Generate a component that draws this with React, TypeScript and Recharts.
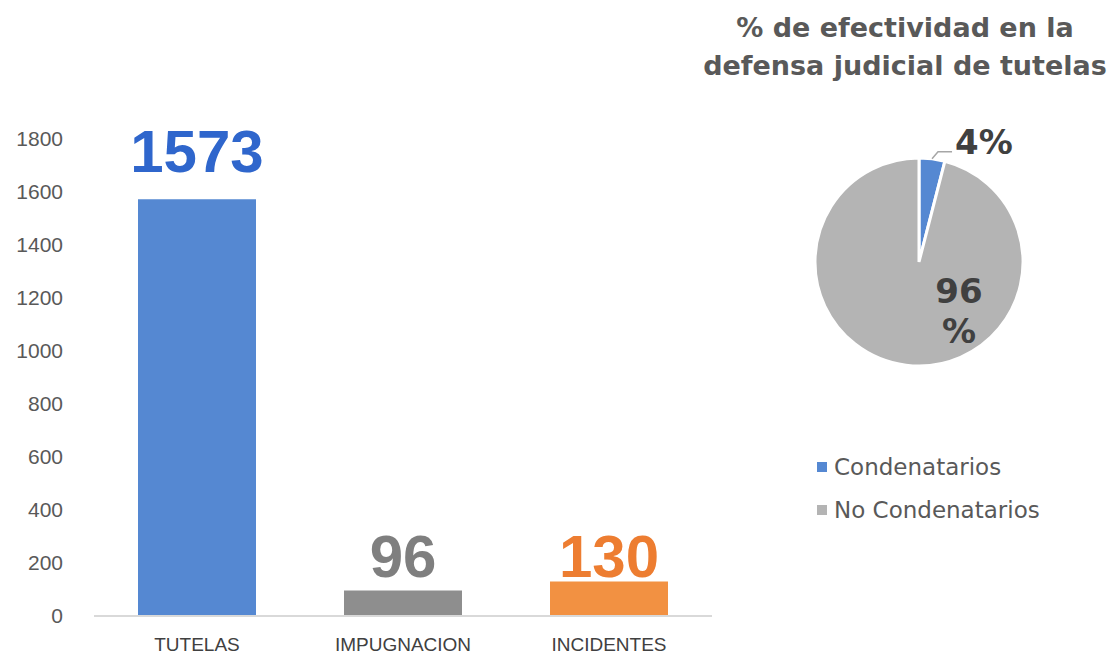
import React from "react";
import {
  Bar,
  BarChart,
  Cell,
  LabelList,
  Legend,
  Pie,
  PieChart,
  XAxis,
  YAxis,
} from "recharts";

const categories = ["TUTELAS", "IMPUGNACION", "INCIDENTES"];
const counts = [1573, 96, 130];
const barColors = ["#5588D2", "#8E8E8E", "#F29142"];
const labelColors = ["#2F66CC", "#7F7F7F", "#ED7D31"];
const yTicks = [0, 200, 400, 600, 800, 1000, 1200, 1400, 1600, 1800];

const pieNames = ["Condenatarios", "No Condenatarios"];
const pieValues = [4, 96];
const pieColors = ["#5588D2", "#B4B4B4"];

const barData = categories.map((name, i) => ({ name, value: counts[i] }));
const pieData = pieNames.map((name, i) => ({ name, value: pieValues[i] }));

const sans = "'Liberation Sans', Arial, sans-serif";
const wide = "'DejaVu Sans', sans-serif";

// gap between each bar top and its value label (labels sit unevenly in the original)
const labelGap = [27, 14, 5];

function BarValue(props: any) {
  const { x, y, width, value, index } = props;
  return (
    <text
      x={x + width / 2}
      y={y - labelGap[index]}
      textAnchor="middle"
      fontFamily={sans}
      fontWeight="bold"
      fontSize={60}
      fill={labelColors[index]}
    >
      {value}
    </text>
  );
}

function PieValue(props: any) {
  const { cx, cy, midAngle, outerRadius, index, value } = props;
  const rad = Math.PI / 180;
  if (index === 0) {
    const sx = cx + outerRadius * Math.cos(-midAngle * rad);
    const sy = cy + outerRadius * Math.sin(-midAngle * rad);
    return (
      <g>
        <polyline
          points={`${sx},${sy} ${sx + 6},${sy - 7} ${sx + 20},${sy - 7}`}
          fill="none"
          stroke="#A6A6A6"
          strokeWidth={1.5}
        />
        <text
          x={sx + 23}
          y={sy - 5}
          fontFamily={wide}
          fontWeight="bold"
          fontSize={34}
          fill="#404040"
        >
          {value}%
        </text>
      </g>
    );
  }
  return (
    <text
      x={cx + 40}
      y={cy + 41}
      textAnchor="middle"
      fontFamily={wide}
      fontWeight="bold"
      fontSize={34}
      fill="#404040"
    >
      <tspan x={cx + 40}>{value}</tspan>
      <tspan x={cx + 40} dy={40}>%</tspan>
    </text>
  );
}

function PieLegend(props: any) {
  const items = props.payload || [];
  return (
    <div>
      {items.map((item: any, i: number) => (
        <div
          key={i}
          style={{
            display: "flex",
            alignItems: "center",
            height: 43,
            fontFamily: wide,
            fontSize: 23,
            color: "#595959",
          }}
        >
          <span
            style={{
              display: "inline-block",
              width: 10,
              height: 10,
              background: item.color,
              marginRight: 7,
            }}
          />
          {item.value}
        </div>
      ))}
    </div>
  );
}

export default function App() {
  return (
    <div
      style={{
        position: "absolute",
        left: 0,
        top: 0,
        width: 1115,
        height: 656,
        background: "#fff",
        overflow: "hidden",
      }}
    >
      <div style={{ position: "absolute", left: 0, top: 0 }}>
        <BarChart
          width={720}
          height={656}
          data={barData}
          margin={{ top: 139, right: 8, bottom: 10, left: 0 }}
        >
          <XAxis
            dataKey="name"
            height={30}
            axisLine={{ stroke: "#D9D9D9", strokeWidth: 2 }}
            tickLine={false}
            tickMargin={16}
            interval={0}
            tick={{ fill: "#404040", fontSize: 19, fontFamily: sans }}
          />
          <YAxis
            width={94}
            domain={[0, 1800]}
            ticks={yTicks}
            axisLine={false}
            tickLine={false}
            tickMargin={25}
            tick={{ fill: "#595959", fontSize: 21, fontFamily: sans }}
          />
          <Bar dataKey="value" barSize={118} isAnimationActive={false}>
            {barData.map((d, i) => (
              <Cell key={d.name} fill={barColors[i]} />
            ))}
            <LabelList dataKey="value" content={<BarValue />} />
          </Bar>
        </BarChart>
      </div>

      <div
        style={{
          position: "absolute",
          left: 690,
          top: 9,
          width: 430,
          textAlign: "center",
          fontFamily: wide,
          fontWeight: "bold",
          fontSize: 27,
          lineHeight: "38px",
          color: "#595959",
        }}
      >
        % de efectividad en la
        <br />
        defensa judicial de tutelas
      </div>

      <div style={{ position: "absolute", left: 700, top: 0 }}>
        <PieChart width={415} height={656} margin={{ top: 0, right: 0, bottom: 0, left: 0 }}>
          <Pie
            data={pieData}
            dataKey="value"
            nameKey="name"
            cx={219}
            cy={262}
            outerRadius={104}
            startAngle={90}
            endAngle={-270}
            stroke="#FFFFFF"
            strokeWidth={3}
            labelLine={false}
            label={<PieValue />}
            isAnimationActive={false}
          >
            {pieData.map((d, i) => (
              <Cell key={d.name} fill={pieColors[i]} />
            ))}
          </Pie>
          <Legend
            layout="horizontal"
            verticalAlign="bottom"
            align="left"
            content={<PieLegend />}
            wrapperStyle={{ top: 445, left: 117, bottom: "auto", width: 300 }}
          />
        </PieChart>
      </div>
    </div>
  );
}
